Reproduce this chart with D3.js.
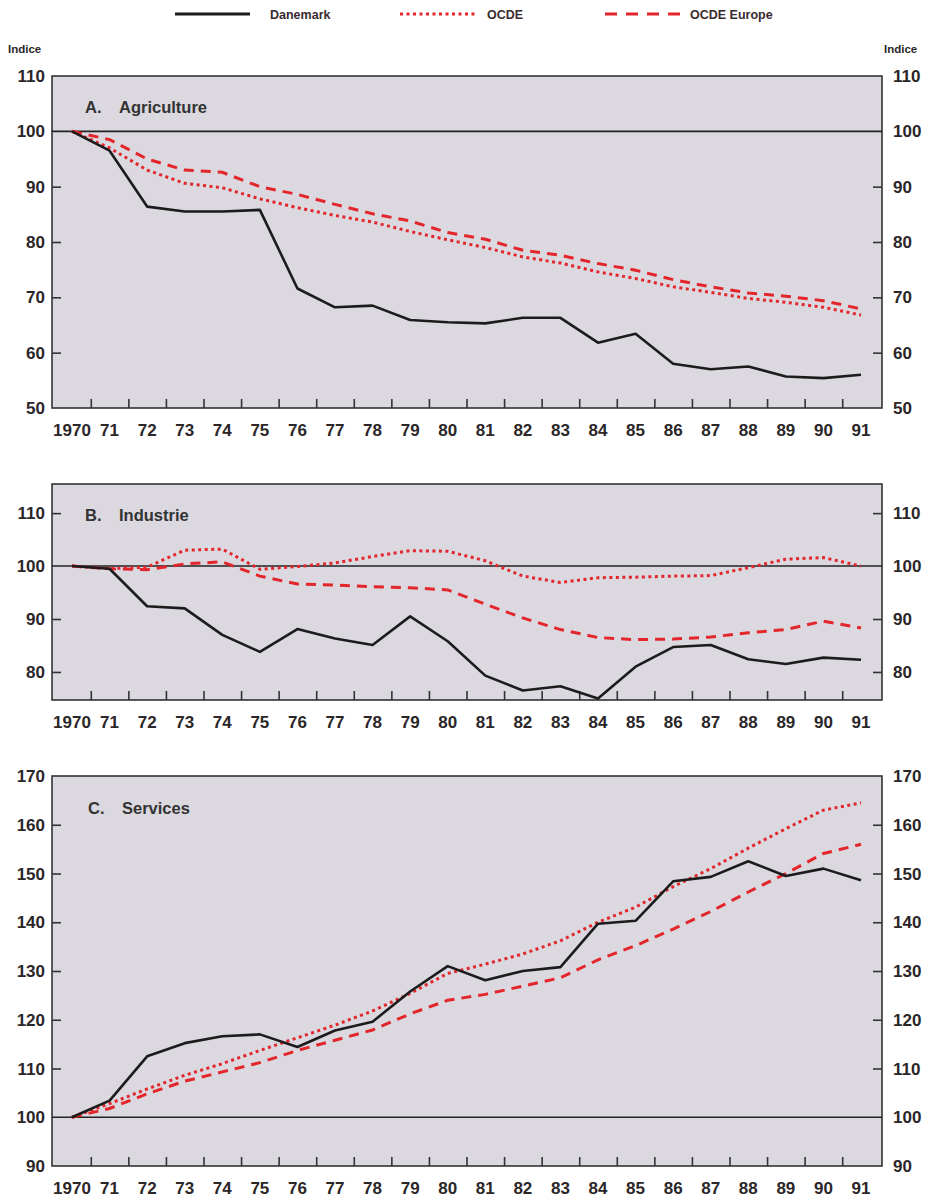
<!doctype html>
<html>
<head>
<meta charset="utf8">
<script src="https://d3js.org/d3.v7.min.js"></script>
<style>
  body { margin: 0; background: #fff; }
  text { font-family: "Liberation Sans", Arial, sans-serif; font-weight: bold; fill: #2b2628; }
  .tick-label { font-family: "Liberation Sans Narrow", "Liberation Sans", Arial, sans-serif; font-size: 17px; }
  .legend-label { font-size: 12.5px; fill: #3a2a30; }
  .title { font-size: 16.5px; fill: #333; }
</style>
</head>
<body>
<svg width="933" height="1201"></svg>
<script>
// years and their labels
var years = d3.range(1970, 1992);
var yearLabels = ["1970","71","72","73","74","75","76","77","78","79","80",
                  "81","82","83","84","85","86","87","88","89","90","91"];

// A. Agriculture
var agriDanemark = [100, 96.5, 86.4, 85.5, 85.5, 85.8, 71.6, 68.2, 68.5, 65.9, 65.5,
                    65.3, 66.3, 66.3, 61.8, 63.4, 58.0, 57.0, 57.5, 55.7, 55.4, 56.0];
var agriOcde     = [100, 97.0, 93.0, 90.6, 89.8, 87.8, 86.2, 84.8, 83.6, 81.9, 80.4,
                    79.0, 77.3, 76.2, 74.6, 73.4, 71.9, 70.9, 69.8, 69.1, 68.2, 66.8];
var agriEurope   = [100, 98.5, 95.0, 93.0, 92.6, 90.0, 88.6, 86.8, 85.1, 83.8, 81.7,
                    80.5, 78.5, 77.6, 76.1, 74.9, 73.2, 71.9, 70.8, 70.2, 69.4, 67.9];

// B. Industrie
var induDanemark = [100, 99.5, 92.4, 92.0, 87.0, 83.8, 88.1, 86.3, 85.1, 90.5, 85.8,
                    79.3, 76.5, 77.3, 75.0, 81.0, 84.7, 85.1, 82.4, 81.5, 82.7, 82.3];
var induOcde     = [100, 99.5, 99.8, 103.0, 103.2, 99.4, 99.9, 100.6, 101.8, 102.9, 102.8,
                    101.0, 98.1, 96.9, 97.8, 97.9, 98.1, 98.2, 99.7, 101.3, 101.6, 100.0];
var induEurope   = [100, 99.5, 99.3, 100.4, 100.8, 98.1, 96.6, 96.4, 96.1, 95.9, 95.5,
                    92.8, 90.2, 88.0, 86.5, 86.1, 86.2, 86.6, 87.4, 88.0, 89.6, 88.3];

// C. Services
var servDanemark = [100, 103.4, 112.5, 115.2, 116.6, 117.0, 114.4, 117.8, 119.6, 125.8, 131.0,
                    128.1, 130.0, 130.8, 139.7, 140.3, 148.4, 149.3, 152.5, 149.5, 151.0, 148.6];
var servOcde     = [100, 102.8, 105.8, 108.6, 111.0, 113.7, 116.3, 118.9, 121.8, 125.4, 129.5,
                    131.4, 133.5, 136.2, 140.0, 143.1, 147.3, 151.0, 155.2, 159.2, 163.0, 164.5];
var servEurope   = [100, 101.8, 104.8, 107.4, 109.3, 111.2, 113.7, 115.8, 117.9, 121.2, 124.0,
                    125.2, 126.9, 128.6, 132.3, 135.2, 138.6, 142.2, 146.2, 150.0, 154.1, 156.0];

var agriTicks = [50, 60, 70, 80, 90, 100, 110];
var induTicks = [80, 90, 100, 110];
var servTicks = [90, 100, 110, 120, 130, 140, 150, 160, 170];

var svg = d3.select("svg");
var boxLeft = 52, boxRight = 882;

var x = d3.scaleLinear().domain([1970, 1991]).range([72, 861]);

var line = function(y) {
    return d3.line()
        .x(function(d, i) { return x(years[i]); })
        .y(function(d) { return y(d); });
};

var red = "#e3262b";

function drawPanel(p) {
    var y = d3.scaleLinear().domain(p.domain).range([p.bottom, p.top]);
    var g = svg.append("g");

    g.append("rect")
     .attr("x", boxLeft).attr("y", p.top)
     .attr("width", boxRight - boxLeft).attr("height", p.bottom - p.top)
     .attr("fill", "#dbd8e0")
     .attr("stroke", "#333").attr("stroke-width", 1.6);

    // ticks inside the box
    var inner = p.ticks.filter(function(t) {
        return t > p.domain[0] && t < p.domain[1] && t !== 100;
    });
    var leftAxis = d3.axisRight(y).tickValues(inner).tickSize(9).tickFormat("");
    var rightAxis = d3.axisLeft(y).tickValues(inner).tickSize(9).tickFormat("");
    var bottomAxis = d3.axisTop(x).tickValues(d3.range(1970.5, 1991, 1)).tickSize(9).tickFormat("");

    [g.append("g").attr("transform", "translate(" + boxLeft + ",0)").call(leftAxis),
     g.append("g").attr("transform", "translate(" + boxRight + ",0)").call(rightAxis),
     g.append("g").attr("transform", "translate(0," + p.bottom + ")").call(bottomAxis)]
        .forEach(function(a) {
            a.select(".domain").remove();
            a.selectAll("line").attr("stroke", "#333").attr("stroke-width", 1.6);
        });

    // tick labels both sides
    p.ticks.forEach(function(t) {
        g.append("text").attr("class", "tick-label")
         .attr("x", 45).attr("y", y(t) + 6)
         .attr("text-anchor", "end").text(t);
        g.append("text").attr("class", "tick-label")
         .attr("x", 893).attr("y", y(t) + 6)
         .text(t);
    });

    g.selectAll(".year")
     .data(yearLabels)
     .enter().append("text")
     .attr("class", "tick-label")
     .attr("x", function(d, i) { return x(years[i]); })
     .attr("y", p.bottom + 28)
     .attr("text-anchor", "middle")
     .text(function(d) { return d; });

    // base 100 line
    g.append("line")
     .attr("x1", boxLeft).attr("x2", boxRight)
     .attr("y1", y(100)).attr("y2", y(100))
     .attr("stroke", "#222").attr("stroke-width", 1.6);

    g.append("text").attr("class", "title")
     .attr("x", p.letterX).attr("y", p.titleY).text(p.letter);
    g.append("text").attr("class", "title")
     .attr("x", p.letterX + 34).attr("y", p.titleY).text(p.title);

    g.append("path").datum(p.europe)
     .attr("fill", "none").attr("stroke", red).attr("stroke-width", 3)
     .attr("stroke-dasharray", "10,7")
     .attr("d", line(y));
    g.append("path").datum(p.ocde)
     .attr("fill", "none").attr("stroke", red).attr("stroke-width", 3)
     .attr("stroke-dasharray", "3,3.5")
     .attr("d", line(y));
    g.append("path").datum(p.danemark)
     .attr("fill", "none").attr("stroke", "#1c1c1c").attr("stroke-width", 2.6)
     .attr("stroke-linejoin", "round")
     .attr("d", line(y));
}

drawPanel({ top: 76, bottom: 408, domain: [50, 110], ticks: agriTicks,
            letter: "A.", title: "Agriculture", letterX: 85, titleY: 113,
            danemark: agriDanemark, ocde: agriOcde, europe: agriEurope });
drawPanel({ top: 484, bottom: 700, domain: [74.7, 115.5], ticks: induTicks,
            letter: "B.", title: "Industrie", letterX: 85, titleY: 521,
            danemark: induDanemark, ocde: induOcde, europe: induEurope });
drawPanel({ top: 776, bottom: 1166, domain: [90, 170], ticks: servTicks,
            letter: "C.", title: "Services", letterX: 88, titleY: 814,
            danemark: servDanemark, ocde: servOcde, europe: servEurope });

// "Indice" labels
svg.append("text").attr("x", 8).attr("y", 53).style("font-size", "11.5px").text("Indice");
svg.append("text").attr("x", 884).attr("y", 53).style("font-size", "11.5px").text("Indice");

// legend
var legend = [
    { name: "Danemark", x1: 175, x2: 250, tx: 270, color: "#1c1c1c", dash: null },
    { name: "OCDE", x1: 400, x2: 475, tx: 487, color: red, dash: "3,3.5" },
    { name: "OCDE Europe", x1: 605, x2: 683, tx: 690, color: red, dash: "12,9" }
];
legend.forEach(function(l) {
    svg.append("line")
       .attr("x1", l.x1).attr("x2", l.x2).attr("y1", 14).attr("y2", 14)
       .attr("stroke", l.color).attr("stroke-width", 3)
       .attr("stroke-dasharray", l.dash);
    svg.append("text").attr("class", "legend-label")
       .attr("x", l.tx).attr("y", 19).text(l.name);
});
</script>
</body>
</html>
